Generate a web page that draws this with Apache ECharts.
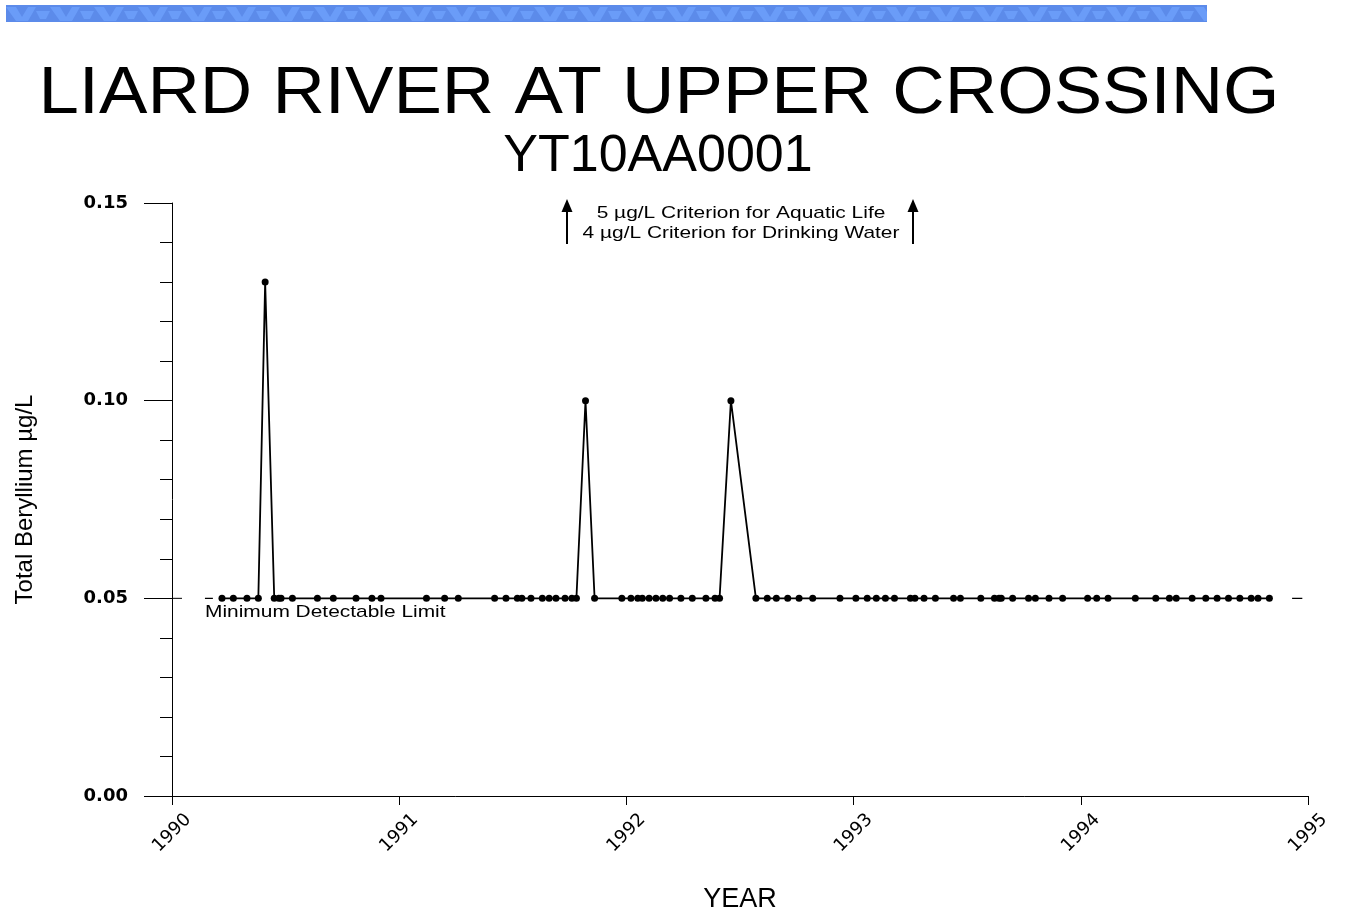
<!DOCTYPE html>
<html>
<head>
<meta charset="utf-8">
<script src="https://cdn.jsdelivr.net/npm/echarts@6/dist/echarts.min.js"></script>
<style>
html,body{margin:0;padding:0;background:#fff;}
#chart{width:1353px;height:913px;}
</style>
</head>
<body>
<div id="chart"></div>
<script>
// ---- DATA ----
var sampleYears = [
  1990.22, 1990.27, 1990.33, 1990.38, 1990.41, 1990.45, 1990.47, 1990.48, 1990.53, 1990.64,
  1990.71, 1990.81, 1990.88, 1990.92, 1991.12, 1991.20, 1991.26, 1991.42, 1991.47, 1991.52,
  1991.54, 1991.58, 1991.63, 1991.66, 1991.69, 1991.73, 1991.76, 1991.78, 1991.82, 1991.86,
  1991.98, 1992.02, 1992.05, 1992.07, 1992.10, 1992.13, 1992.16, 1992.19, 1992.24, 1992.29,
  1992.35, 1992.39, 1992.41, 1992.46, 1992.57, 1992.62, 1992.66, 1992.71, 1992.76, 1992.82,
  1992.94, 1993.01, 1993.06, 1993.10, 1993.14, 1993.18, 1993.25, 1993.27, 1993.31, 1993.36,
  1993.44, 1993.47, 1993.56, 1993.62, 1993.64, 1993.65, 1993.70, 1993.77, 1993.80, 1993.86,
  1993.92, 1994.03, 1994.07, 1994.12, 1994.24, 1994.33, 1994.39, 1994.42, 1994.49, 1994.55,
  1994.60, 1994.65, 1994.70, 1994.75, 1994.78, 1994.83
];
var berylliumValues = [
  0.05, 0.05, 0.05, 0.05, 0.13, 0.05, 0.05, 0.05, 0.05, 0.05,
  0.05, 0.05, 0.05, 0.05, 0.05, 0.05, 0.05, 0.05, 0.05, 0.05,
  0.05, 0.05, 0.05, 0.05, 0.05, 0.05, 0.05, 0.05, 0.10, 0.05,
  0.05, 0.05, 0.05, 0.05, 0.05, 0.05, 0.05, 0.05, 0.05, 0.05,
  0.05, 0.05, 0.05, 0.10, 0.05, 0.05, 0.05, 0.05, 0.05, 0.05,
  0.05, 0.05, 0.05, 0.05, 0.05, 0.05, 0.05, 0.05, 0.05, 0.05,
  0.05, 0.05, 0.05, 0.05, 0.05, 0.05, 0.05, 0.05, 0.05, 0.05,
  0.05, 0.05, 0.05, 0.05, 0.05, 0.05, 0.05, 0.05, 0.05, 0.05,
  0.05, 0.05, 0.05, 0.05, 0.05, 0.05
];
var mdlValue = 0.05;
var mdlLeftYears = [1990.145, 1990.18];
var mdlRightYears = [1994.93, 1994.975];
var mdlCrossTickYears = [1990, 1990.044];
var yTicks = [0, 0.05, 0.10, 0.15];
var xYears = [1990, 1991, 1992, 1993, 1994, 1995];
var titleText = 'LIARD RIVER AT UPPER CROSSING';
var subtitleText = 'YT10AA0001';
var criterionLines = ['5 µg/L Criterion for Aquatic Life', '4 µg/L Criterion for Drinking Water'];
var mdlLabel = 'Minimum Detectable Limit';

// ---- BUILD ----
var seriesData = sampleYears.map(function (y, i) { return [y, berylliumValues[i]]; });
var mdlLeft = mdlLeftYears.map(function (y) { return [y, mdlValue]; });
var mdlRight = mdlRightYears.map(function (y) { return [y, mdlValue]; });
var mdlCross = mdlCrossTickYears.map(function (y) { return [y, mdlValue]; });

// textured band tile
var tile = document.createElement('canvas');
tile.width = 44; tile.height = 17;
(function () {
  var c = tile.getContext('2d');
  c.fillStyle = '#5c8bea'; c.fillRect(0, 0, 44, 17);
  c.fillStyle = '#6a9cf8';
  c.beginPath(); c.moveTo(0, 2); c.lineTo(10, 2); c.lineTo(16, 12); c.lineTo(22, 2); c.lineTo(30, 2);
  c.lineTo(22, 16); c.lineTo(10, 16); c.closePath(); c.fill();
  c.beginPath(); c.moveTo(30, 6); c.lineTo(44, 6); c.lineTo(40, 14); c.lineTo(34, 14); c.closePath(); c.fill();
})();

var chart = echarts.init(document.getElementById('chart'), null, {renderer: 'canvas'});
var FONT = 'Liberation Sans, Arial, sans-serif';

function arrow(x) {
  return {
    type: 'group',
    children: [
      {type: 'line', shape: {x1: x, y1: 244, x2: x, y2: 206}, style: {stroke: '#000', lineWidth: 2}},
      {type: 'polygon', shape: {points: [[x - 5.5, 212], [x + 5.5, 212], [x, 199]]}, style: {fill: '#000'}}
    ]
  };
}

var option = {
  backgroundColor: '#ffffff',
  animation: false,
  grid: {left: 172, right: 45, top: 203, bottom: 117, containLabel: false, outerBoundsMode: 'none'},
  xAxis: {
    type: 'value',
    min: xYears[0],
    max: xYears[xYears.length - 1],
    interval: 1,
    name: 'YEAR',
    nameLocation: 'middle',
    nameGap: 90,
    nameTextStyle: {fontFamily: FONT, fontSize: 27, color: '#000'},
    axisLine: {show: true, onZero: false, lineStyle: {color: '#000', width: 1}},
    axisTick: {show: true, length: 9, lineStyle: {color: '#000'}},
    axisLabel: {
      rotate: 45, margin: 37, align: 'center', verticalAlign: 'middle',
      fontFamily: 'DejaVu Sans', fontSize: 18, color: '#000',
      formatter: function (v) { return String(Math.round(v)); }
    },
    splitLine: {show: false}
  },
  yAxis: {
    type: 'value',
    min: yTicks[0],
    max: yTicks[yTicks.length - 1],
    interval: 0.05,
    name: 'Total Beryllium µg/L',
    nameLocation: 'middle',
    nameGap: 135,
    nameRotate: 90,
    nameTextStyle: {fontFamily: FONT, fontSize: 24, color: '#000'},
    axisLine: {show: true, lineStyle: {color: '#000', width: 1}},
    axisTick: {show: true, length: 28, lineStyle: {color: '#000'}},
    minorTick: {show: true, splitNumber: 5, length: 12, lineStyle: {color: '#000'}},
    axisLabel: {
      margin: 44, fontFamily: 'DejaVu Sans', fontWeight: 'bold', fontSize: 18, color: '#000',
      formatter: function (v) { return v.toFixed(2); }
    },
    splitLine: {show: false}
  },
  series: [
    {
      type: 'line',
      data: seriesData,
      symbol: 'circle',
      symbolSize: 7,
      showSymbol: true,
      itemStyle: {color: '#000'},
      lineStyle: {color: '#000', width: 1.8},
      z: 3
    },
    {type: 'line', data: mdlLeft, symbol: 'none', lineStyle: {color: '#000', width: 1.2}},
    {type: 'line', data: mdlRight, symbol: 'none', lineStyle: {color: '#000', width: 1.2}},
    {type: 'line', data: mdlCross, symbol: 'none', lineStyle: {color: '#000', width: 1}}
  ],
  graphic: [
    {type: 'rect', left: 6, top: 5, shape: {width: 1201, height: 17}, style: {fill: {image: tile, repeat: 'repeat'}}},
    {type: 'text', x: 659, y: 62, scaleX: 1.10, style: {text: titleText, font: '66px ' + FONT, fill: '#000', textAlign: 'center'}},
    {type: 'text', x: 658, y: 131, style: {text: subtitleText, font: '52px ' + FONT, fill: '#000', textAlign: 'center'}},
    {type: 'text', x: 741, y: 205, scaleX: 1.23, style: {text: criterionLines[0], font: '17px ' + FONT, fill: '#000', textAlign: 'center'}},
    {type: 'text', x: 741, y: 225, scaleX: 1.23, style: {text: criterionLines[1], font: '17px ' + FONT, fill: '#000', textAlign: 'center'}},
    arrow(567),
    arrow(913),
    {type: 'text', x: 205, y: 604, scaleX: 1.23, style: {text: mdlLabel, font: '17px ' + FONT, fill: '#000'}}
  ]
};
chart.setOption(option);
</script>
</body>
</html>
